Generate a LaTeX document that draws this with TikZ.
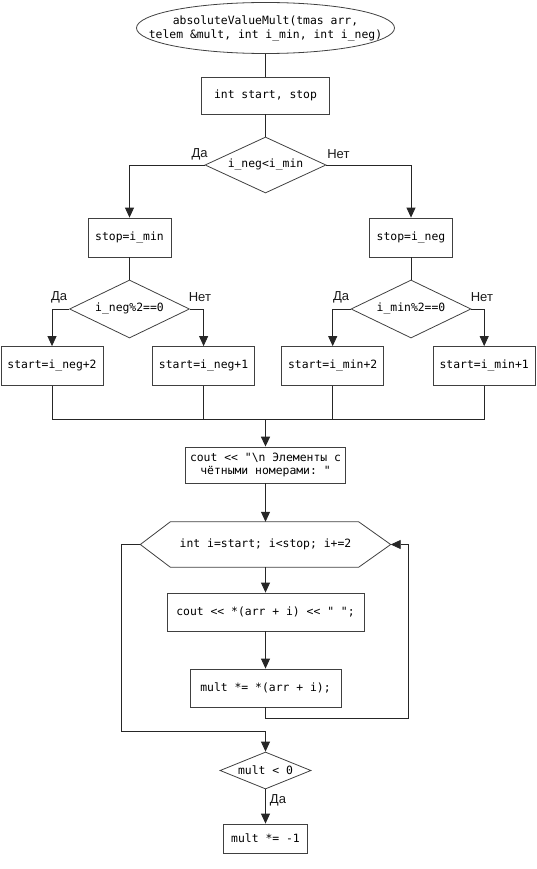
\documentclass[tikz,border=0pt]{standalone}
\usepackage{fontspec}
\setmainfont{Liberation Sans}
\setmonofont{DejaVu Sans Mono}
\usetikzlibrary{shapes.geometric,arrows.meta}
\begin{document}
\begin{tikzpicture}[x=1pt,y=-1pt,
  line/.style={draw=black!85,line width=0.8pt},
  arr/.style={line,-{Triangle[length=10pt,width=9pt]}},
  border/.style={draw=black!75,line width=0.8pt},
  code/.style={font=\ttfamily\fontsize{11.4}{13.5}\selectfont},
  box/.style={border,rectangle,inner sep=0pt,code,align=center},
  dia/.style={border,diamond,inner sep=0pt,code},
  lab/.style={font=\fontsize{13}{15}\selectfont,inner sep=0pt,text=black!90}]
\useasboundingbox (0,0) rectangle (537,869);
% nodes
\node[border,ellipse,minimum width=258pt,minimum height=51pt,inner sep=0pt,
  label={[code,align=center,font=\ttfamily\fontsize{11.4}{14}\selectfont]center:absoluteValueMult(tmas arr,\\telem \&mult, int i\_min, int i\_neg)}] (start) at (265.5,28) {};
\node[box,minimum width=128pt,minimum height=37pt] (r1) at (265.5,95.5) {int start, stop};
\node[dia,aspect=2.16,minimum width=121pt,minimum height=56pt] (d1) at (265.5,165) {i\_neg<i\_min};
\node[box,minimum width=83pt,minimum height=39pt] (r2) at (129.5,237.5) {stop=i\_min};
\node[box,minimum width=83pt,minimum height=39pt] (r3) at (411,237.5) {stop=i\_neg};
\node[dia,aspect=2.07,minimum width=120pt,minimum height=58pt] (d2) at (129.5,309) {i\_neg\%2==0};
\node[dia,aspect=2.07,minimum width=120pt,minimum height=58pt] (d3) at (411,309) {i\_min\%2==0};
\node[box,minimum width=102pt,minimum height=39pt] (r4) at (52,366) {start=i\_neg+2};
\node[box,minimum width=102pt,minimum height=39pt] (r5) at (203.6,366) {start=i\_neg+1};
\node[box,minimum width=102pt,minimum height=39pt] (r6) at (332.7,366) {start=i\_min+2};
\node[box,minimum width=102pt,minimum height=39pt] (r7) at (484.2,366) {start=i\_min+1};
\coordinate (m) at (265.5,419);
\node[box,minimum width=160pt,minimum height=36pt] (r8) at (265.5,465) {cout << "\textbackslash n Элементы с\\чётными номерами: "};
\node[rectangle,inner sep=0pt,minimum width=250pt,minimum height=45pt,code] (hex) at (265.5,544.5) {int i=start; i<stop; i+=2};
\draw[border] (hex.west) -- ([xshift=30pt]hex.north west) -- ([xshift=-32pt]hex.north east) -- (hex.east) -- ([xshift=-32pt]hex.south east) -- ([xshift=30pt]hex.south west) -- cycle;
\node[box,minimum width=197pt,minimum height=38pt] (r9) at (265.5,612) {cout << *(arr + i) << " ";};
\node[box,minimum width=151pt,minimum height=38pt] (r10) at (265.5,688) {mult *= *(arr + i);};
\coordinate (lr) at (408.5,718);
\coordinate (ll) at (121.5,731);
\node[dia,aspect=2.46,minimum width=91pt,minimum height=37pt] (d4) at (265.5,770.5) {mult < 0};
\node[box,minimum width=84pt,minimum height=29pt] (r11) at (265.5,838.5) {mult *= -1};
% connectors
\draw[line] (start.south) -- (r1.north);
\draw[line] (r1.south) -- (d1.north);
\draw[arr] (d1.west) -| (r2.north);
\draw[arr] (d1.east) -| (r3.north);
\draw[line] (r2.south) -- (d2.north);
\draw[line] (r3.south) -- (d3.north);
\draw[arr] (d2.west) -| (r4.north);
\draw[arr] (d2.east) -| (r5.north);
\draw[arr] (d3.west) -| (r6.north);
\draw[arr] (d3.east) -| (r7.north);
\draw[line] (r4.south) |- (m);
\draw[line] (r5.south) |- (m);
\draw[line] (r6.south) |- (m);
\draw[line] (r7.south) |- (m);
\draw[arr,line width=1.6pt] (m) -- (r8.north);
\draw[arr] (r8.south) -- (hex.north);
\draw[arr] (hex.south) -- (r9.north);
\draw[arr] (r9.south) -- (r10.north);
\draw[arr] (r10.south) |- (lr) |- (hex.east);
\draw[arr] (hex.west) -| (ll) -| (d4.north);
\draw[arr] (d4.south) -- (r11.north);
% labels
\node[lab] (l1) at ([shift={(-5,-11)}]d1.west) {Да};
\node[lab] (l2) at ([shift={(12,-11)}]d1.east) {Нет};
\node[lab] (l3) at ([shift={(-10,-11.5)}]d2.west) {Да};
\node[lab] (l4) at ([shift={(10,-11.5)}]d2.east) {Нет};
\node[lab] (l5) at ([shift={(-9.5,-11.5)}]d3.west) {Да};
\node[lab] (l6) at ([shift={(10.5,-11.5)}]d3.east) {Нет};
\node[lab] (l7) at ([shift={(12.5,11)}]d4.south) {Да};
\end{tikzpicture}
\end{document}
